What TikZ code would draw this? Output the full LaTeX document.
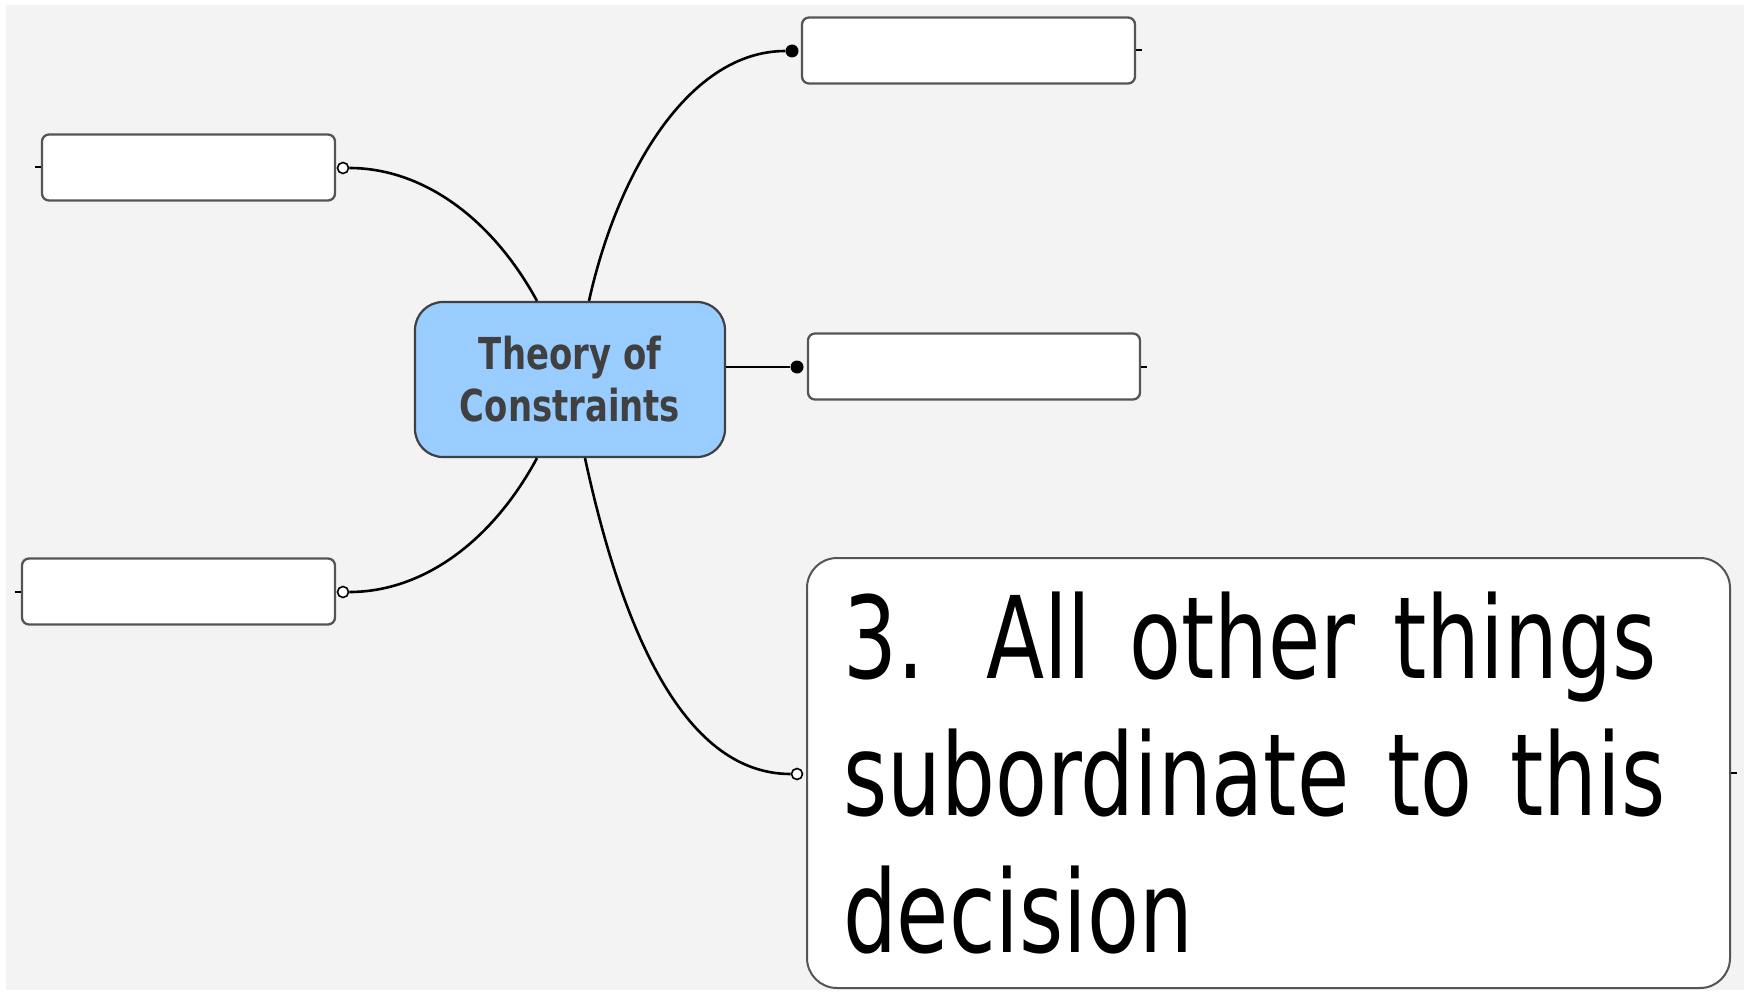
\documentclass[tikz,border=0pt]{standalone}
\usepackage{fontspec}
\newfontfamily\mapfont[FakeStretch=0.77]{DejaVu Sans}
\newfontfamily\notefont[FakeStretch=0.745]{DejaVu Sans}
\definecolor{canvas}{HTML}{F3F3F3}
\definecolor{boxline}{HTML}{555555}
\definecolor{topicblue}{HTML}{99CCFF}
\definecolor{topictext}{HTML}{404040}
\begin{document}
\begin{tikzpicture}[x=1pt,y=-1pt,
  subtopic/.style={draw=boxline, line width=2.3pt, fill=white, rounded corners=7pt,
    inner sep=0pt, minimum height=66pt},
  central/.style={draw=topictext, line width=2.2pt, fill=topicblue, rounded corners=28pt,
    inner sep=0pt, minimum width=310pt, minimum height=155pt, align=center,
    text=topictext, font=\mapfont\bfseries\fontsize{44}{52}\selectfont},
  link/.style={line width=2.6pt, black},
  stub/.style={line width=2pt, black},
  opendot/.style={circle, draw=black, line width=1.6pt, fill=white, inner sep=0pt, minimum size=11pt},
  filldot/.style={circle, fill=black, inner sep=0pt, minimum size=13pt}]
% page and canvas
\useasboundingbox (0,0) rectangle (1752,995);
\fill[white] (0,0) rectangle (1752,995);
\fill[canvas] (6,5) rectangle (1744,990);

% central topic
\node[central] (toc) at (570,379.5) {Theory of\\Constraints};

% subtopic boxes
\node[subtopic, minimum width=293pt] (tl) at (188.5,167.5) {};
\node[subtopic, minimum width=313pt] (bl) at (178.5,591.5) {};
\node[subtopic, minimum width=333pt] (tr) at (968.5,50.5) {};
\node[subtopic, minimum width=332pt] (mr) at (974,366.5) {};
\node[draw=boxline, line width=2pt, fill=white, rounded corners=30pt,
  inner xsep=36pt, inner ysep=0pt, text width=851pt, minimum height=430pt, align=left,
  font=\notefont\fontsize{114}{137}\selectfont] (big) at (1268.5,773)
  {3.\hspace{62pt}All other things\\subordinate to this\\decision};

% connector ends at the boxes
\node[opendot] (tlp) at (343,168) {};
\node[opendot] (blp) at (343,592) {};
\node[filldot] (trp) at (792,51) {};
\node[filldot] (mrp) at (797,367) {};
\node[opendot] (bigp) at (797,774) {};

% connectors from the central topic
\draw[link] ([xshift=-33pt]toc.north) .. controls (490,215) and (420,168) .. (tlp);
\draw[link] ([xshift=-33pt]toc.south) .. controls (490,545) and (420,592) .. (blp);
\draw[link] ([xshift=19pt]toc.north) .. controls (618,170) and (690,51) .. (trp);
\draw[link] (toc.east |- mrp) -- (mrp);
\draw[link] ([xshift=15pt]toc.south) .. controls (620,620) and (680,774) .. (bigp);

% short stubs on the outer sides of the boxes
\draw[stub] (tl.west) -- ++(-6,0);
\draw[stub] (bl.west) -- ++(-6,0);
\draw[stub] (tr.east) -- ++(6,0);
\draw[stub] (mr.east) -- ++(6,0);
\draw[stub] (big.east) -- ++(6,0);
\end{tikzpicture}
\end{document}
